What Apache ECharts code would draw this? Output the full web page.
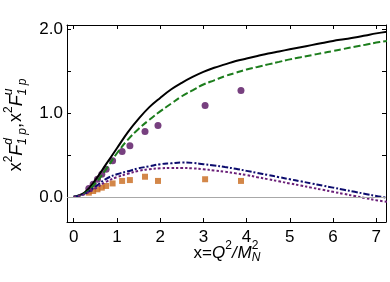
<!DOCTYPE html>
<html><head><meta charset="utf-8">
<script src="https://cdn.jsdelivr.net/npm/echarts@6/dist/echarts.min.js"></script>
<style>html,body{margin:0;padding:0;background:#fff}#c{width:390px;height:282px}</style>
</head><body><div id="c"></div>
<script>
// ---- data ----
const curveX       = [0, 0.25, 0.5, 0.75, 1, 1.25, 1.5, 1.75, 2, 2.25, 2.5, 2.75, 3, 3.25, 3.5, 3.75, 4, 4.25, 4.5, 4.75, 5, 5.25, 5.5, 5.75, 6, 6.25, 6.5, 6.75, 7, 7.25];
const blackSolid   = [0, 0.05, 0.20, 0.39, 0.58, 0.77, 0.93, 1.07, 1.18, 1.28, 1.36, 1.43, 1.49, 1.54, 1.58, 1.62, 1.65, 1.68, 1.71, 1.735, 1.76, 1.785, 1.81, 1.835, 1.86, 1.88, 1.90, 1.925, 1.95, 1.97];
const greenDashed  = [0, 0.04, 0.16, 0.33, 0.52, 0.68, 0.81, 0.92, 1.02, 1.11, 1.20, 1.27, 1.34, 1.39, 1.44, 1.48, 1.52, 1.55, 1.58, 1.61, 1.64, 1.665, 1.69, 1.715, 1.74, 1.765, 1.79, 1.815, 1.84, 1.86];
const navyDashDot  = [0, 0.035, 0.12, 0.215, 0.27, 0.305, 0.34, 0.365, 0.39, 0.40, 0.41, 0.405, 0.39, 0.375, 0.355, 0.335, 0.31, 0.285, 0.26, 0.235, 0.21, 0.185, 0.16, 0.135, 0.11, 0.085, 0.06, 0.035, 0.01, -0.01];
const purpleDotted = [0, 0.03, 0.10, 0.18, 0.235, 0.275, 0.31, 0.33, 0.34, 0.345, 0.345, 0.34, 0.33, 0.315, 0.30, 0.28, 0.26, 0.235, 0.21, 0.185, 0.16, 0.135, 0.11, 0.085, 0.06, 0.035, 0.01, -0.015, -0.04, -0.06];
const dataX        = [0.35, 0.45, 0.55, 0.65, 0.75, 0.90, 1.12, 1.30, 1.65, 1.95, 3.04, 3.87];
const circlesY     = [0.10, 0.15, 0.21, 0.27, 0.33, 0.43, 0.54, 0.61, 0.78, 0.85, 1.09, 1.27];
const squaresY     = [0.05, 0.07, 0.09, 0.11, 0.13, 0.16, 0.19, 0.20, 0.24, 0.19, 0.21, 0.19];
const xTicks       = [0, 1, 2, 3, 4, 5, 6, 7];
const yTicks       = [0, 0.5, 1, 1.5, 2];
const yTickLabels  = [0, 1, 2];

const FONT = '"Liberation Sans", Arial, sans-serif';
const chart = echarts.init(document.getElementById('c'), null, {renderer: 'canvas'});

const ctx = document.createElement('canvas').getContext('2d');
function tw(t, s, it) { ctx.font = (it ? 'italic ' : '') + s + 'px ' + FONT; return ctx.measureText(t).width; }
function piece(p, x) {
  return {type: 'text', x: x, y: p.dy || 0,
    style: {text: p.t, fontSize: p.s, fontStyle: p.i ? 'italic' : 'normal', fontFamily: FONT,
      fill: '#000', textAlign: 'left', textVerticalAlign: 'middle'}};
}
function build(tokens) {
  let x = 0; const els = [];
  tokens.forEach(tk => {
    if (tk.stack) {
      let mw = 0;
      tk.stack.forEach(p => { els.push(piece(p, x)); mw = Math.max(mw, tw(p.t, p.s, p.i)); });
      x += mw;
    } else { els.push(piece(tk, x)); x += tw(tk.t, tk.s, tk.i) + (tk.after || 0); }
  });
  els.forEach(e => e.x -= x / 2);
  return els;
}
const M = 18, S = 12;
const yLabel = build([
  {t: 'x', s: M}, {t: '2', s: S, dy: -8},
  {t: 'F', s: M, i: true},
  {stack: [{t: 'd', s: S, i: true, dy: -8}, {t: '1 p', s: S, i: true, dy: 6}]},
  {t: ',', s: M, after: 1},
  {t: 'x', s: M}, {t: '2', s: S, dy: -8},
  {t: 'F', s: M, i: true},
  {stack: [{t: 'u', s: S, i: true, dy: -8}, {t: '1 p', s: S, i: true, dy: 6}]}
]);
const X = 17, XS = 12;
const xLabel = build([
  {t: 'x', s: X}, {t: '=', s: X}, {t: 'Q', s: X, i: true}, {t: '2', s: XS, dy: -7},
  {t: '/', s: X, i: true, after: 1}, {t: 'M', s: X, i: true},
  {stack: [{t: '2', s: XS, dy: -7}, {t: 'N', s: XS, i: true, dy: 5}]}
]);

function pts(ys) { return curveX.map((x, i) => [x, ys[i]]); }
const axisCommon = {
  type: 'value',
  axisLine: {show: true, onZero: false, lineStyle: {color: '#000', width: 1}},
  splitLine: {show: false},
  axisTick: {show: true, inside: true, length: 4, lineStyle: {color: '#000', width: 1}}
};
const lineCommon = {type: 'line', showSymbol: false, smooth: 0.4, z: 4, silent: true};

chart.setOption({
  animation: false,
  grid: {left: 67, right: 4, top: 25, bottom: 60},
  xAxis: [
    Object.assign({}, axisCommon, {position: 'bottom', min: -0.155, max: 7.225,
      axisTick: Object.assign({}, axisCommon.axisTick, {customValues: xTicks}),
      axisLabel: {customValues: xTicks, fontSize: 17, color: '#000', fontFamily: FONT, margin: 7}}),
    Object.assign({}, axisCommon, {position: 'top', min: -0.155, max: 7.225,
      axisTick: Object.assign({}, axisCommon.axisTick, {customValues: xTicks}),
      axisLabel: {show: false}})
  ],
  yAxis: [
    Object.assign({}, axisCommon, {position: 'left', min: -0.3, max: 2.05,
      axisTick: Object.assign({}, axisCommon.axisTick, {customValues: yTicks}),
      axisLabel: {customValues: yTickLabels, fontSize: 17, color: '#000', fontFamily: FONT, margin: 4,
        formatter: v => v.toFixed(1)}}),
    Object.assign({}, axisCommon, {position: 'right', min: -0.3, max: 2.05,
      axisTick: Object.assign({}, axisCommon.axisTick, {customValues: yTicks}),
      axisLabel: {show: false}})
  ],
  series: [
    {type: 'scatter', data: dataX.map((x, i) => [x, squaresY[i]]), symbol: 'rect', symbolSize: 6,
      itemStyle: {color: '#c8691c'}, z: 2, silent: true,
      markLine: {silent: true, symbol: 'none', label: {show: false},
        lineStyle: {color: '#a8a8a8', width: 1, type: 'solid'}, data: [{yAxis: 0}]}},
    {type: 'scatter', data: dataX.map((x, i) => [x, circlesY[i]]), symbol: 'circle', symbolSize: 7,
      itemStyle: {color: '#55105f'}, z: 2, silent: true},
    Object.assign({}, lineCommon, {data: pts(blackSolid), lineStyle: {color: '#000', width: 2, type: 'solid'}}),
    Object.assign({}, lineCommon, {data: pts(greenDashed), lineStyle: {color: '#1c7d1c', width: 2, type: [7, 3]}}),
    Object.assign({}, lineCommon, {data: pts(navyDashDot), lineStyle: {color: '#0c0c6e', width: 2, type: [6, 2, 2, 2]}}),
    Object.assign({}, lineCommon, {data: pts(purpleDotted), lineStyle: {color: '#6a1f78', width: 2, type: [2.5, 2]}})
  ],
  graphic: [
    {type: 'group', x: 16.5, y: 125, rotation: Math.PI / 2, children: yLabel},
    {type: 'group', x: 227, y: 253, children: xLabel}
  ]
});
</script></body></html>
